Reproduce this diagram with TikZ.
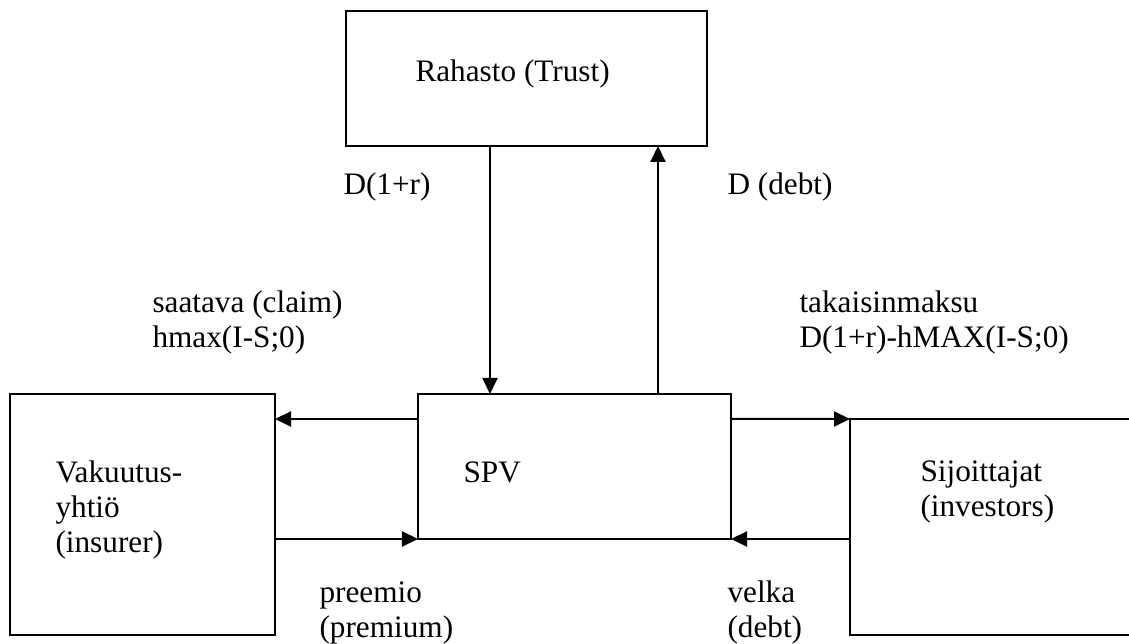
\documentclass[tikz,border=0pt]{standalone}
\usepackage{fontspec}
\setmainfont{Liberation Serif}
\usetikzlibrary{arrows.meta}

\begin{document}
\begin{tikzpicture}[x=0.4pt, y=-0.4pt,
  box/.style={draw, line width=0.8pt, rectangle, inner sep=0pt, outer sep=0pt},
  lbl/.style={inner sep=0pt, anchor=base west, font=\fontsize{12.5}{14}\selectfont},
  arr/.style={line width=0.8pt, -{Triangle[length=6.4pt, width=6pt]}}]
  \useasboundingbox (0,0) rectangle (1129,644);
  \clip (0,0) rectangle (1129,644);

  % boxes
  \node[box, minimum width=144.4pt, minimum height=54pt] (trust) at (526.5,78.5) {};
  \node[box, minimum width=125.2pt, minimum height=58pt] (spv) at (574.5,466.5) {};
  \node[box, minimum width=106pt, minimum height=96.4pt] (insurer) at (142.5,514.5) {};
  \node[box, minimum width=140pt, minimum height=86.4pt] (investors) at (1025,527) {};

  % texts inside the boxes
  \node[lbl] (trustlbl) at (415,82) {Rahasto (Trust)};
  \node[lbl] (spvlbl) at (463,483) {SPV};
  \node[lbl] (inslbl) at (55,483) {\vtop{\hbox{Vakuutus-}\hbox{yhtiö}\hbox{(insurer)}}};
  \node[lbl] (invlbl) at (920,482) {\vtop{\hbox{Sijoittajat}\hbox{(investors)}}};

  % helper positions of the connectors
  \coordinate (dnx) at (490,0);
  \coordinate (upx) at (658,0);
  \coordinate (topy) at (0,419);

  % flows between trust and SPV
  \draw[arr] (trust.south -| dnx) -- (spv.north -| dnx);
  \draw[arr] (spv.north -| upx) -- (trust.south -| upx);

  % flows between SPV, insurer and investors
  \draw[arr] (spv.west |- topy) -- (insurer.east |- topy);
  \draw[arr] (insurer.east |- spv.south) -- (spv.south west);
  \draw[arr] (spv.east |- topy) -- (investors.north west);
  \draw[arr] (investors.west |- spv.south) -- (spv.south east);

  % flow labels
  \node[lbl] (l1) at (343,195) {D(1+r)};
  \node[lbl] (l2) at (727,195) {D (debt)};
  \node[lbl] (l3) at (152,313) {\vtop{\hbox{saatava (claim)}\hbox{hmax(I-S;0)}}};
  \node[lbl] (l4) at (799,313) {\vtop{\hbox{takaisinmaksu}\hbox{D(1+r)-hMAX(I-S;0)}}};
  \node[lbl] (l5) at (319,603) {\vtop{\hbox{preemio}\hbox{(premium)}}};
  \node[lbl] (l6) at (727,603) {\vtop{\hbox{velka}\hbox{(debt)}}};
\end{tikzpicture}
\end{document}
